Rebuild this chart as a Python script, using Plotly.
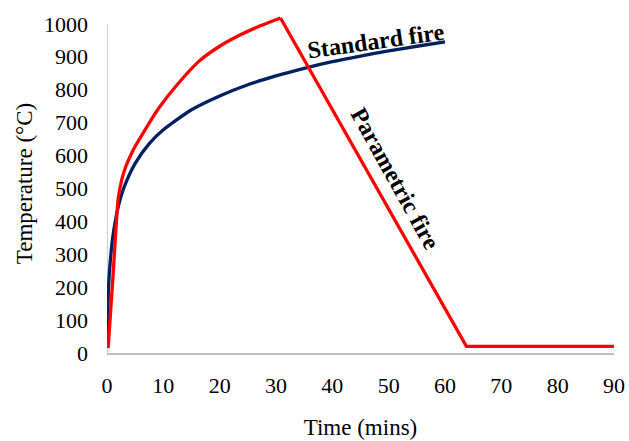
import plotly.graph_objects as go

# Standard fire curve (time in mins, temperature in °C)
std_time = [0, 0.25, 0.5, 1, 2, 3, 5, 7.5, 10, 15, 20, 25, 30, 35, 40, 45, 50, 55, 60]
std_temp = [20, 190, 261, 349, 445, 502, 576, 636, 678, 739, 781, 815, 842, 865, 885, 902, 918, 932, 945]

# Parametric fire curve: heating phase and cooling phase
par_heat_time = [0.2, 1.1, 2.0, 2.6, 3.3, 4.1, 5.0, 6.4, 8.0, 9.4, 12.3, 16.3, 20.0, 23.6, 27.2, 30.8]
par_heat_temp = [15, 243, 470, 525, 565, 597, 628, 668, 713, 749, 812, 886, 932, 966, 994, 1018]
par_cool_time = [30.8, 63.8, 90]
par_cool_temp = [1018, 20, 20]

x_ticks = [0, 10, 20, 30, 40, 50, 60, 70, 80, 90]
y_ticks = [0, 100, 200, 300, 400, 500, 600, 700, 800, 900, 1000]

FONT = "Liberation Serif, Times New Roman, serif"
AXIS_GRAY = "#bfbfbf"
RED = "#ff0000"
NAVY = "#002060"

fig = go.Figure()
fig.add_trace(go.Scatter(x=std_time, y=std_temp, mode="lines",
                         line=dict(color=NAVY, width=3.3, shape="spline", smoothing=0.6),
                         showlegend=False))
fig.add_trace(go.Scatter(x=par_heat_time, y=par_heat_temp, mode="lines",
                         line=dict(color=RED, width=3.3, shape="spline", smoothing=0.7),
                         showlegend=False))
fig.add_trace(go.Scatter(x=par_cool_time, y=par_cool_temp, mode="lines",
                         line=dict(color=RED, width=3.3),
                         showlegend=False))

# y axis line (only up to 1000)
fig.add_shape(type="line", x0=0, x1=0, y0=0, y1=1000, xref="x", yref="y",
              line=dict(color=AXIS_GRAY, width=1.5), layer="below")

fig.add_annotation(x=47.8, y=948, xref="x", yref="y", text="<b>Standard fire</b>",
                   showarrow=False, textangle=-8,
                   font=dict(family=FONT, size=24, color="#000000"))
fig.add_annotation(x=51.2, y=528, xref="x", yref="y", text="<b>Parametric fire</b>",
                   showarrow=False, textangle=61,
                   font=dict(family=FONT, size=24, color="#000000"))

fig.update_layout(
    width=629, height=441,
    margin=dict(l=107, r=15, t=14, b=88),
    paper_bgcolor="white", plot_bgcolor="white",
    font=dict(family=FONT, size=22, color="#000000"),
    xaxis=dict(range=[0, 90], tickvals=x_ticks, showgrid=False, zeroline=False,
               showline=True, linecolor=AXIS_GRAY, linewidth=1.5, ticks="",
               ticklabelstandoff=12, automargin=False,
               title=dict(text="Time (mins)", standoff=22, font=dict(size=23))),
    yaxis=dict(range=[0, 1030], tickvals=y_ticks, showgrid=False, zeroline=False,
               showline=False, ticks="", ticklabelstandoff=18, automargin=False,
               title=dict(text="Temperature (°C)", standoff=4, font=dict(size=23))),
)

# remove the default page margin so the figure fills the window exactly
fig.write_html("out.html",
               config={"displayModeBar": False},
               post_script="document.body.style.margin='0px';document.body.style.overflow='hidden';")
